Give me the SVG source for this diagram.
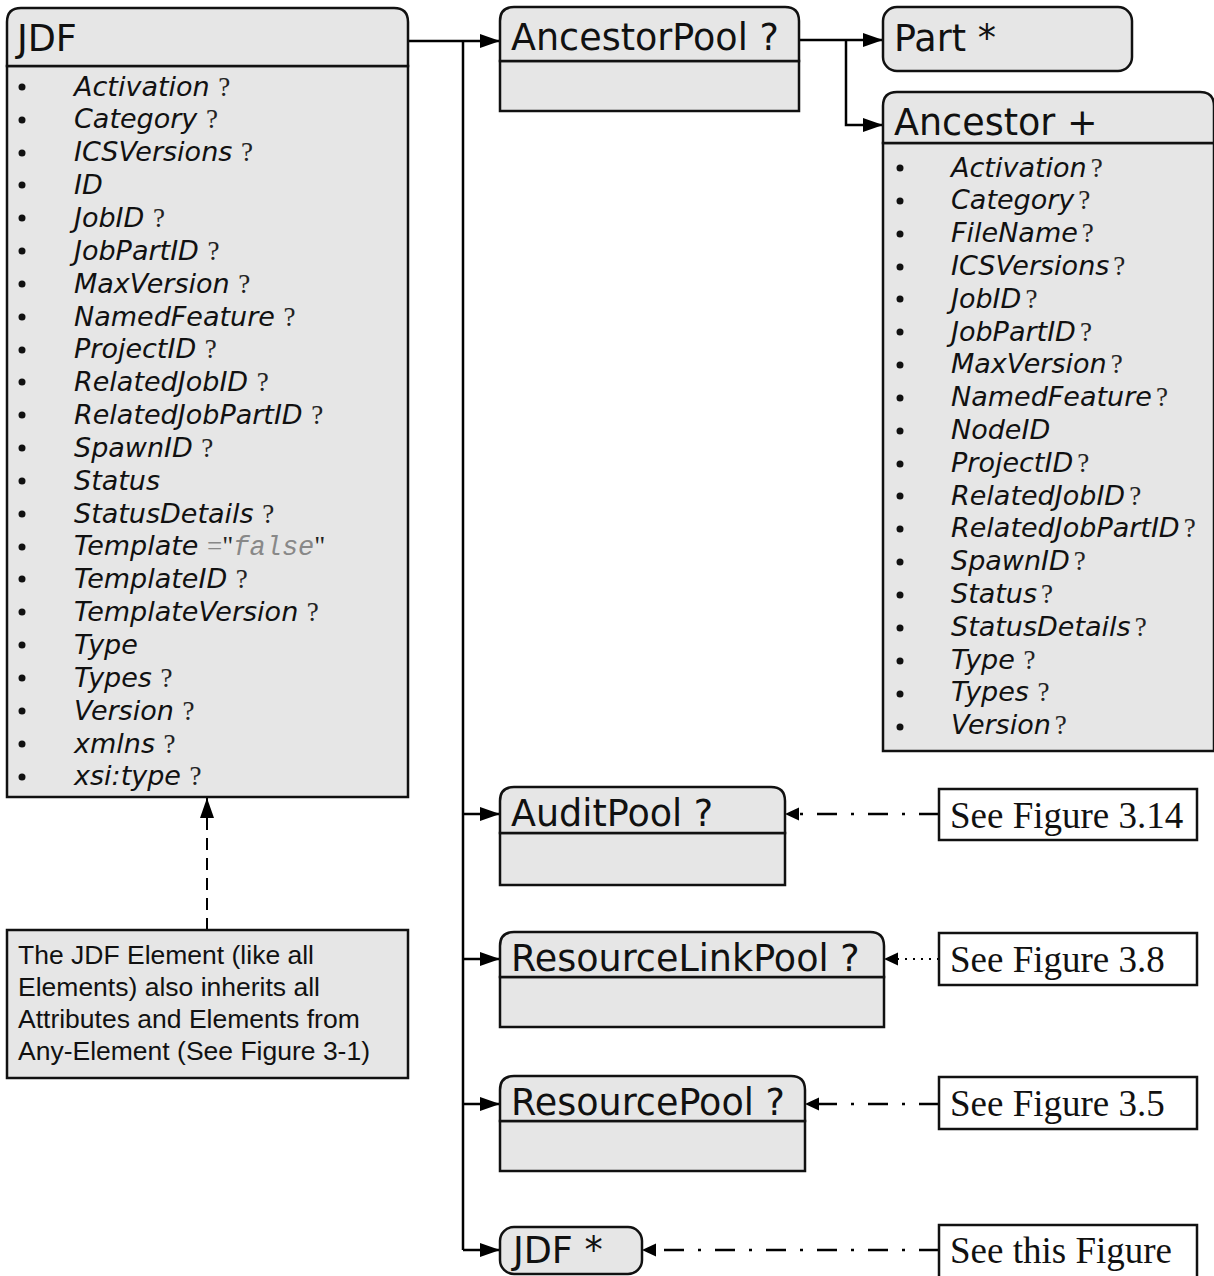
<svg xmlns="http://www.w3.org/2000/svg" width="1214" height="1276" viewBox="0 0 1214 1276">
  <defs>
    <marker id="arrow" markerUnits="userSpaceOnUse" markerWidth="22" markerHeight="16" refX="20" refY="7" orient="auto">
      <path d="M0,0 L20,7 L0,14 Z" fill="#000"/>
    </marker>
    <marker id="arrowSmall" markerUnits="userSpaceOnUse" markerWidth="16" markerHeight="14" refX="14" refY="7" orient="auto">
      <path d="M0,0.5 L14,7 L0,13.5 Z" fill="#000"/>
    </marker>
    <style>
      .box { fill: #e6e6e6; stroke: #111; stroke-width: 2.5; }
      .ref { fill: #fff; stroke: #111; stroke-width: 2.5; }
      .title { font-family: "DejaVu Sans", Verdana, sans-serif; font-size: 36.5px; fill: #111; }
      .attr { font-family: "DejaVu Sans", Verdana, sans-serif; font-style: italic; font-size: 27px; fill: #111; }
      .q { font-family: "Liberation Serif", "Times New Roman", serif; font-style: normal; fill: #222; }
      .eq { font-family: "Liberation Serif", "Times New Roman", serif; font-style: normal; fill: #888; }
      .mono { font-family: "Liberation Mono", "Courier New", monospace; font-style: italic; fill: #888; }
      .note { font-family: "Liberation Sans", Arial, sans-serif; font-size: 26.5px; fill: #111; }
      .see { font-family: "Liberation Serif", "Times New Roman", serif; font-size: 37px; fill: #111; }
      .bullet { fill: #111; }
      .link { stroke: #000; stroke-width: 2.5; fill: none; }
      .linkSolid { marker-end: url(#arrow); }
      .dashdot { stroke: #000; stroke-width: 2.5; fill: none; stroke-dasharray: 20 14 3 14; marker-end: url(#arrowSmall); }
      .dotted { stroke: #000; stroke-width: 2; fill: none; stroke-dasharray: 2 6; marker-end: url(#arrowSmall); }
      .dashed { stroke: #000; stroke-width: 2; fill: none; stroke-dasharray: 12 8; marker-end: url(#arrow); }
    </style>
  </defs>

  <!-- connectors -->
  <g id="connectors">
    <path class="link linkSolid" d="M408,41 H500"/>
    <path class="link" d="M463,41 V1250"/>
    <path class="link linkSolid" d="M463,814 H500"/>
    <path class="link linkSolid" d="M463,959 H500"/>
    <path class="link linkSolid" d="M463,1104 H500"/>
    <path class="link linkSolid" d="M463,1250 H500"/>
    <path class="link linkSolid" d="M799,40 H883"/>
    <path class="link linkSolid" d="M846,40 V125 H883"/>
    <path class="dashed" d="M207,930 V798"/>
    <path class="dashdot" d="M939,814 H785"/>
    <path class="dotted" d="M939,959 H884"/>
    <path class="dashdot" d="M939,1104 H805"/>
    <path class="dashdot" d="M939,1250 H642"/>
  </g>

  <!-- JDF element -->
  <g id="node-jdf">
    <rect class="box" x="7" y="66" width="401" height="731"/>
    <path class="box" d="M7,66 V22 Q7,8 21,8 H394 Q408,8 408,22 V66 Z"/>
    <text class="title" x="17" y="51">JDF</text>
    <g class="bullets">
      <circle class="bullet" cx="22" cy="87" r="3.5"/>
      <circle class="bullet" cx="22" cy="120" r="3.5"/>
      <circle class="bullet" cx="22" cy="153" r="3.5"/>
      <circle class="bullet" cx="22" cy="185" r="3.5"/>
      <circle class="bullet" cx="22" cy="218" r="3.5"/>
      <circle class="bullet" cx="22" cy="251" r="3.5"/>
      <circle class="bullet" cx="22" cy="284" r="3.5"/>
      <circle class="bullet" cx="22" cy="317" r="3.5"/>
      <circle class="bullet" cx="22" cy="350" r="3.5"/>
      <circle class="bullet" cx="22" cy="382" r="3.5"/>
      <circle class="bullet" cx="22" cy="415" r="3.5"/>
      <circle class="bullet" cx="22" cy="448" r="3.5"/>
      <circle class="bullet" cx="22" cy="481" r="3.5"/>
      <circle class="bullet" cx="22" cy="514" r="3.5"/>
      <circle class="bullet" cx="22" cy="547" r="3.5"/>
      <circle class="bullet" cx="22" cy="579" r="3.5"/>
      <circle class="bullet" cx="22" cy="612" r="3.5"/>
      <circle class="bullet" cx="22" cy="645" r="3.5"/>
      <circle class="bullet" cx="22" cy="678" r="3.5"/>
      <circle class="bullet" cx="22" cy="711" r="3.5"/>
      <circle class="bullet" cx="22" cy="744" r="3.5"/>
      <circle class="bullet" cx="22" cy="777" r="3.5"/>
    </g>
    <text class="attr" x="74" y="95.5">Activation <tspan class="q">?</tspan></text>
    <text class="attr" x="74" y="128.4">Category <tspan class="q">?</tspan></text>
    <text class="attr" x="74" y="161.2">ICSVersions <tspan class="q">?</tspan></text>
    <text class="attr" x="74" y="194">ID</text>
    <text class="attr" x="74" y="226.9">JobID <tspan class="q">?</tspan></text>
    <text class="attr" x="74" y="259.8">JobPartID <tspan class="q">?</tspan></text>
    <text class="attr" x="74" y="292.6">MaxVersion <tspan class="q">?</tspan></text>
    <text class="attr" x="74" y="325.5">NamedFeature <tspan class="q">?</tspan></text>
    <text class="attr" x="74" y="358.3">ProjectID <tspan class="q">?</tspan></text>
    <text class="attr" x="74" y="391.2">RelatedJobID <tspan class="q">?</tspan></text>
    <text class="attr" x="74" y="424">RelatedJobPartID <tspan class="q">?</tspan></text>
    <text class="attr" x="74" y="456.9">SpawnID <tspan class="q">?</tspan></text>
    <text class="attr" x="74" y="489.7">Status</text>
    <text class="attr" x="74" y="522.6">StatusDetails <tspan class="q">?</tspan></text>
    <text class="attr" x="74" y="555.4">Template <tspan class="eq">=</tspan><tspan class="q" fill="#111">"</tspan><tspan class="mono">false</tspan><tspan class="q">"</tspan></text>
    <text class="attr" x="74" y="588.3">TemplateID <tspan class="q">?</tspan></text>
    <text class="attr" x="74" y="621.1">TemplateVersion <tspan class="q">?</tspan></text>
    <text class="attr" x="74" y="654">Type</text>
    <text class="attr" x="74" y="686.8">Types <tspan class="q">?</tspan></text>
    <text class="attr" x="74" y="719.7">Version <tspan class="q">?</tspan></text>
    <text class="attr" x="74" y="752.5">xmlns <tspan class="q">?</tspan></text>
    <text class="attr" x="74" y="785.4">xsi:type <tspan class="q">?</tspan></text>
  </g>

  <!-- inheritance note -->
  <g id="node-note">
    <rect class="box" x="7" y="930" width="401" height="148"/>
    <text class="note" x="18" y="964">The JDF Element (like all</text>
    <text class="note" x="18" y="996">Elements) also inherits all</text>
    <text class="note" x="18" y="1028">Attributes and Elements from</text>
    <text class="note" x="18" y="1060">Any-Element (See Figure 3-1)</text>
  </g>

  <!-- AncestorPool -->
  <g id="node-ancestorpool">
    <rect class="box" x="500" y="61" width="299" height="50"/>
    <path class="box" d="M500,61 V21 Q500,7 514,7 H785 Q799,7 799,21 V61 Z"/>
    <text class="title" x="511" y="50">AncestorPool ?</text>
  </g>

  <!-- Part -->
  <g id="node-part">
    <rect class="box" x="883" y="7" width="249" height="64" rx="14" ry="14"/>
    <text class="title" x="894" y="51">Part *</text>
  </g>

  <!-- Ancestor -->
  <g id="node-ancestor">
    <rect class="box" x="883" y="143" width="331" height="608"/>
    <path class="box" d="M883,143 V106 Q883,92 897,92 H1200 Q1214,92 1214,106 V143 Z"/>
    <text class="title" x="894" y="135">Ancestor +</text>
    <g class="bullets">
      <circle class="bullet" cx="900" cy="168" r="3.5"/>
      <circle class="bullet" cx="900" cy="201" r="3.5"/>
      <circle class="bullet" cx="900" cy="234" r="3.5"/>
      <circle class="bullet" cx="900" cy="267" r="3.5"/>
      <circle class="bullet" cx="900" cy="299" r="3.5"/>
      <circle class="bullet" cx="900" cy="332" r="3.5"/>
      <circle class="bullet" cx="900" cy="365" r="3.5"/>
      <circle class="bullet" cx="900" cy="398" r="3.5"/>
      <circle class="bullet" cx="900" cy="431" r="3.5"/>
      <circle class="bullet" cx="900" cy="464" r="3.5"/>
      <circle class="bullet" cx="900" cy="496" r="3.5"/>
      <circle class="bullet" cx="900" cy="529" r="3.5"/>
      <circle class="bullet" cx="900" cy="562" r="3.5"/>
      <circle class="bullet" cx="900" cy="595" r="3.5"/>
      <circle class="bullet" cx="900" cy="628" r="3.5"/>
      <circle class="bullet" cx="900" cy="661" r="3.5"/>
      <circle class="bullet" cx="900" cy="694" r="3.5"/>
      <circle class="bullet" cx="900" cy="727" r="3.5"/>
    </g>
    <text class="attr" x="951" y="176.5">Activation<tspan class="q" dx="4">?</tspan></text>
    <text class="attr" x="951" y="209.3">Category<tspan class="q" dx="4">?</tspan></text>
    <text class="attr" x="951" y="242.1">FileName<tspan class="q" dx="4">?</tspan></text>
    <text class="attr" x="951" y="274.9">ICSVersions<tspan class="q" dx="4">?</tspan></text>
    <text class="attr" x="951" y="307.7">JobID<tspan class="q" dx="4">?</tspan></text>
    <text class="attr" x="951" y="340.5">JobPartID<tspan class="q" dx="4">?</tspan></text>
    <text class="attr" x="951" y="373.3">MaxVersion<tspan class="q" dx="4">?</tspan></text>
    <text class="attr" x="951" y="406.1">NamedFeature<tspan class="q" dx="4">?</tspan></text>
    <text class="attr" x="951" y="438.9">NodeID</text>
    <text class="attr" x="951" y="471.7">ProjectID<tspan class="q" dx="4">?</tspan></text>
    <text class="attr" x="951" y="504.5">RelatedJobID<tspan class="q" dx="4">?</tspan></text>
    <text class="attr" x="951" y="537.3">RelatedJobPartID<tspan class="q" dx="4">?</tspan></text>
    <text class="attr" x="951" y="570.1">SpawnID<tspan class="q" dx="4">?</tspan></text>
    <text class="attr" x="951" y="602.9">Status<tspan class="q" dx="4">?</tspan></text>
    <text class="attr" x="951" y="635.7">StatusDetails<tspan class="q" dx="4">?</tspan></text>
    <text class="attr" x="951" y="668.5">Type <tspan class="q">?</tspan></text>
    <text class="attr" x="951" y="701.3">Types <tspan class="q">?</tspan></text>
    <text class="attr" x="951" y="734.1">Version<tspan class="q" dx="4">?</tspan></text>
  </g>

  <!-- AuditPool -->
  <g id="node-auditpool">
    <rect class="box" x="500" y="833" width="285" height="52"/>
    <path class="box" d="M500,833 V801 Q500,787 514,787 H771 Q785,787 785,801 V833 Z"/>
    <text class="title" x="511" y="826">AuditPool ?</text>
  </g>

  <!-- ResourceLinkPool -->
  <g id="node-resourcelinkpool">
    <rect class="box" x="500" y="977" width="384" height="50"/>
    <path class="box" d="M500,977 V946 Q500,932 514,932 H870 Q884,932 884,946 V977 Z"/>
    <text class="title" x="511" y="971">ResourceLinkPool ?</text>
  </g>

  <!-- ResourcePool -->
  <g id="node-resourcepool">
    <rect class="box" x="500" y="1121" width="305" height="50"/>
    <path class="box" d="M500,1121 V1090 Q500,1076 514,1076 H791 Q805,1076 805,1090 V1121 Z"/>
    <text class="title" x="511" y="1115">ResourcePool ?</text>
  </g>

  <!-- nested JDF -->
  <g id="node-jdf-child">
    <rect class="box" x="500" y="1227" width="142" height="47" rx="14" ry="14"/>
    <text class="title" x="513" y="1263">JDF *</text>
  </g>

  <!-- figure references -->
  <g id="ref-3-14">
    <rect class="ref" x="939" y="789" width="258" height="51"/>
    <text class="see" x="950" y="828">See Figure 3.14</text>
  </g>
  <g id="ref-3-8">
    <rect class="ref" x="939" y="933" width="258" height="52"/>
    <text class="see" x="950" y="972">See Figure 3.8</text>
  </g>
  <g id="ref-3-5">
    <rect class="ref" x="939" y="1077" width="258" height="52"/>
    <text class="see" x="950" y="1116">See Figure 3.5</text>
  </g>
  <g id="ref-this">
    <rect class="ref" x="939" y="1225" width="258" height="55"/>
    <text class="see" x="950" y="1263">See this Figure</text>
  </g>
</svg>
